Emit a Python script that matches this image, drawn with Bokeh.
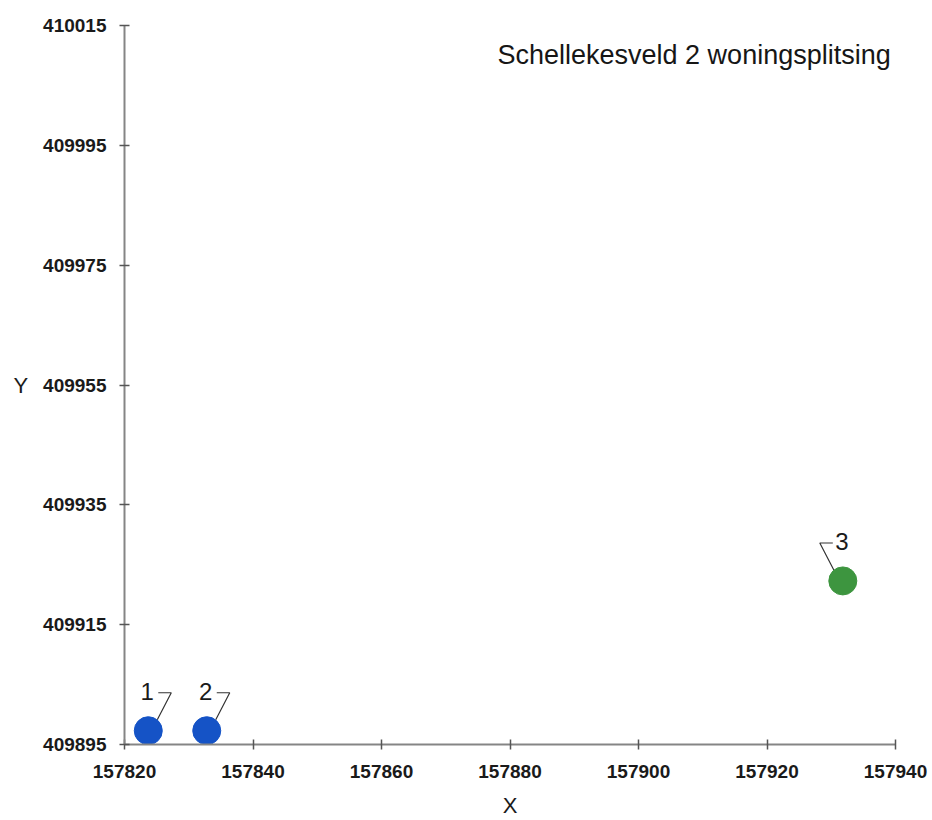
from bokeh.plotting import figure
from bokeh.models import Range1d, FixedTicker, Label, ColumnDataSource, BasicTickFormatter
from bokeh.core.properties import value
from bokeh.embed import file_html
from bokeh.resources import INLINE

# ---- data ----
TITLE = "Schellekesveld 2 woningsplitsing"
point_labels = ["1", "2", "3"]
x_vals = [157823.7, 157832.8, 157931.8]
y_vals = [409897.3, 409897.3, 409922.3]
point_colors = ["#1553c6", "#1553c6", "#3d953f"]
x_ticks = [157820, 157840, 157860, 157880, 157900, 157920, 157940]
y_ticks = [409895, 409915, 409935, 409955, 409975, 409995, 410015]

# ---- layout / style ----
W, H = 932, 820
BL, BR, BT, BB = 124, 37, 25, 75
FRAME_W = W - BL - BR
FRAME_H = H - BT - BB
FONT = "Liberation Sans"
leader_side = [1, 1, -1]

x0, x1 = min(x_ticks), max(x_ticks)
y0, y1 = min(y_ticks), max(y_ticks)
ux = (x1 - x0) / FRAME_W
uy = (y1 - y0) / FRAME_H

p = figure(width=W, height=H, x_range=Range1d(x0, x1), y_range=Range1d(y0, y1),
           output_backend="svg", toolbar_location=None,
           min_border_left=BL, min_border_right=BR, min_border_top=BT, min_border_bottom=BB)
p.outline_line_color = None
p.xgrid.visible = False
p.ygrid.visible = False
p.background_fill_color = "white"
p.border_fill_color = "white"

for ax, ticks in ((p.xaxis[0], x_ticks), (p.yaxis[0], y_ticks)):
    ax.ticker = FixedTicker(ticks=ticks)
    ax.formatter = BasicTickFormatter(use_scientific=False)
    ax.axis_line_color = "#858585"
    ax.axis_line_width = 2
    ax.major_tick_line_color = "#555555"
    ax.major_tick_line_width = 1.5
    ax.major_tick_in = 5
    ax.major_tick_out = 5
    ax.minor_tick_line_color = None
    ax.major_label_text_font = FONT
    ax.major_label_text_font_style = "bold"
    ax.major_label_text_font_size = "19px"
    ax.major_label_text_color = "#1a1a1a"
    ax.axis_label_text_font = FONT
    ax.axis_label_text_font_style = "normal"
    ax.axis_label_text_font_size = "22px"
    ax.axis_label_text_color = "#1a1a1a"

p.xaxis.axis_label = "X"
p.xaxis.major_label_standoff = 15
p.xaxis.axis_label_standoff = 12
p.yaxis.axis_label = "Y"
p.yaxis.axis_label_orientation = "horizontal"
p.yaxis.major_label_standoff = 13
p.yaxis.axis_label_standoff = 12

src = ColumnDataSource(dict(x=x_vals, y=y_vals, c=point_colors, t=point_labels))

# leader lines (hook shapes) computed from data + pixel offsets
xs, ys = [], []
for xv, yv, s in zip(x_vals, y_vals, leader_side):
    px = [s * 10, s * 23, s * 9]
    py = [38, 38, 11]
    xs.append([xv + d * ux for d in px])
    ys.append([yv + d * uy for d in py])
p.multi_line(xs, ys, line_color="#333333", line_width=1.2)

p.scatter("x", "y", source=src, size=28, fill_color="c", line_color="c", line_width=1)

p.text("x", "y", text="t", source=src, x_offset=-1, y_offset=-39,
       text_align="center", text_baseline="middle",
       text_font=value(FONT), text_font_size="24px", text_color="#1a1a1a")

title = Label(x=373, y=FRAME_H - 30, x_units="screen", y_units="screen",
              text=TITLE, text_align="left", text_baseline="middle",
              text_font=FONT, text_font_size="27px", text_color="#161616")
p.add_layout(title)

open("out.html", "w").write(file_html(p, INLINE))
